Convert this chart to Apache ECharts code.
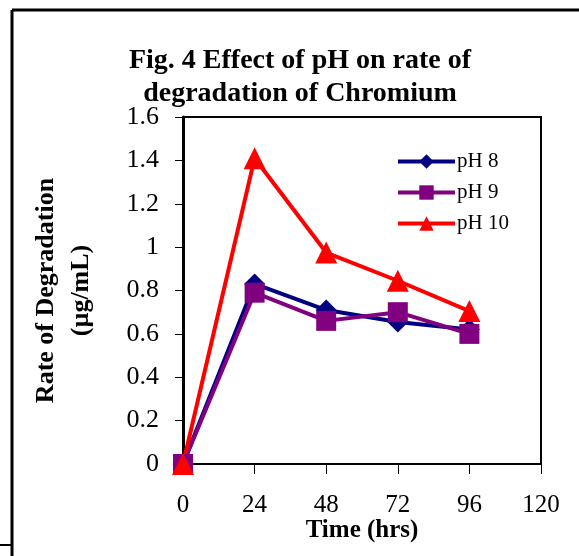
<!DOCTYPE html>
<html>
<head>
<meta charset="utf-8">
<script src="https://cdn.jsdelivr.net/npm/echarts@6/dist/echarts.min.js"></script>
<style>html,body{margin:0;padding:0;background:#fff}#c{width:579px;height:556px}</style>
</head>
<body>
<div id="c"></div>
<script>
const hours = [0, 24, 48, 72, 96];
const ph8 = [0, 0.83, 0.71, 0.655, 0.62];
const ph9 = [0, 0.79, 0.66, 0.70, 0.60];
const ph10 = [0, 1.41, 0.975, 0.845, 0.705];
const seriesNames = ['pH 8', 'pH 9', 'pH 10'];
const titleLines = ['Fig. 4 Effect of pH on rate of', 'degradation of Chromium'];
const xName = 'Time (hrs)';
const yNameLines = ['Rate of Degradation', '(µg/mL)'];

const serif = '"Liberation Serif", "Times New Roman", serif';
const pair = arr => hours.map((h, i) => [h, arr[i]]);

const chart = echarts.init(document.getElementById('c'), null, {renderer: 'canvas'});
chart.setOption({
  animation: false,
  backgroundColor: '#fff',
  title: {
    text: titleLines.join('\n'),
    left: 300,
    textAlign: 'center',
    top: 44,
    padding: 0,
    textStyle: {fontFamily: serif, fontWeight: 'bold', fontSize: 28, lineHeight: 33, color: '#000'}
  },
  legend: {
    orient: 'vertical',
    left: 391,
    top: 146,
    itemWidth: 57,
    itemHeight: 18,
    itemGap: 10,
    data: seriesNames,
    lineStyle: {width: 4},
    textStyle: {fontFamily: serif, fontSize: 21, lineHeight: 18, color: '#000', padding: [0, 0, 0, -3]}
  },
  grid: {
    left: 183, right: 38, top: 117, bottom: 92,
    show: true, borderColor: '#000', borderWidth: 2, backgroundColor: 'transparent'
  },
  xAxis: {
    type: 'value', min: 0, max: 120, interval: 24,
    name: xName, nameLocation: 'middle', nameGap: 54, nameMoveOverlap: false,
    nameTextStyle: {fontFamily: serif, fontWeight: 'bold', fontSize: 25, color: '#000'},
    axisLine: {show: true, onZero: false, lineStyle: {color: '#000', width: 2}},
    axisTick: {show: true, inside: false, length: 10, lineStyle: {color: '#000', width: 1}},
    axisLabel: {fontFamily: serif, fontSize: 25, color: '#000', margin: 29},
    splitLine: {show: false}
  },
  yAxis: {
    type: 'value', min: 0, max: 1.6, interval: 0.2,
    name: yNameLines.join('\n'), nameLocation: 'middle', nameGap: 84, nameRotate: 90, nameMoveOverlap: false,
    nameTextStyle: {fontFamily: serif, fontWeight: 'bold', fontSize: 26, lineHeight: 35, color: '#000'},
    axisLine: {show: true, lineStyle: {color: '#000', width: 3}},
    axisTick: {show: true, inside: false, length: 8, lineStyle: {color: '#000', width: 1}},
    axisLabel: {fontFamily: serif, fontSize: 26, color: '#000', margin: 24},
    splitLine: {show: false}
  },
  graphic: [
    {type: 'line', shape: {x1: 12, y1: 10, x2: 579, y2: 10}, style: {stroke: '#000', lineWidth: 3}},
    {type: 'line', shape: {x1: 12, y1: 10, x2: 12, y2: 556}, style: {stroke: '#000', lineWidth: 3}},
    {type: 'line', shape: {x1: 0, y1: 545, x2: 12, y2: 545}, style: {stroke: '#000', lineWidth: 2}}
  ],
  series: [
    {name: seriesNames[0], type: 'line', data: pair(ph8), symbol: 'diamond', symbolSize: 21,
     color: '#000080', lineStyle: {width: 4, color: '#000080'}, itemStyle: {color: '#000080'}},
    {name: seriesNames[1], type: 'line', data: pair(ph9), symbol: 'rect', symbolSize: 20,
     color: '#800080', lineStyle: {width: 4, color: '#800080'}, itemStyle: {color: '#800080'}},
    {name: seriesNames[2], type: 'line', data: pair(ph10), symbol: 'triangle', symbolSize: 22,
     color: '#ff0000', lineStyle: {width: 4, color: '#ff0000'}, itemStyle: {color: '#ff0000'}}
  ]
});
</script>
</body>
</html>
